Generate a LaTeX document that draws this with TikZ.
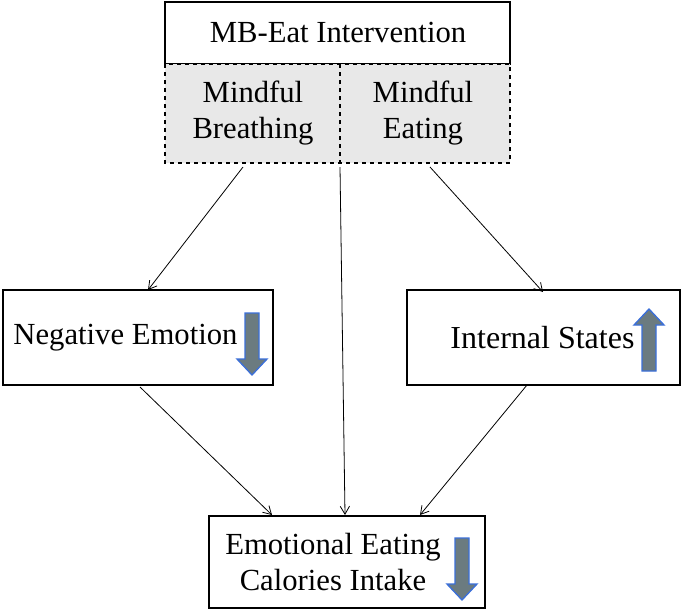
\documentclass[tikz,border=0pt]{standalone}
\usepackage{fontspec}
\setmainfont{Liberation Serif}
\usetikzlibrary{arrows.meta,positioning}
\definecolor{trendfill}{HTML}{6B7B80}
\definecolor{trendline}{HTML}{3B6FD9}
% block arrow: centre x, tail y, tip y (head 16 long, signed)
\newcommand{\trendarrow}[3]{%
  \draw[trend] (#1-7,#2) -- (#1+7,#2) -- (#1+7,{#3-16*sign(#3-#2)}) -- (#1+15,{#3-16*sign(#3-#2)})
    -- (#1,#3) -- (#1-15,{#3-16*sign(#3-#2)}) -- (#1-7,{#3-16*sign(#3-#2)}) -- cycle;}
\begin{document}
\begin{tikzpicture}[x=0.75pt,y=-0.75pt,
  box/.style={draw,thick,inner sep=0pt},
  link/.style={-{Straight Barb[length=6pt,width=7pt]},line width=0.6pt},
  trend/.style={draw=trendline,fill=trendfill,line width=1pt,line join=miter}]
  \useasboundingbox (0,0) rectangle (685,612);
  \fontsize{23}{27}\selectfont
  % Intervention block
  \draw[box] (165,2) rectangle (510,64);
  \node (title) at (338,32) {MB-Eat Intervention};
  \fill[gray!18] (165,64) rectangle (510,163);
  \draw[thick,dashed] (165,64) rectangle (510,163) (340,64) -- (340,163);
  \node[align=center] (breath) at (253,113) {Mindful\\Breathing};
  \node[align=center] (eat) at (423,113) {Mindful\\Eating};
  \coordinate (bl) at (243,167);
  \coordinate (bm) at (340,167);
  \coordinate (br) at (430,167);
  % Mediators
  \draw[box] (3,290) rectangle (273,385);
  \node[anchor=west] (neg) at (3,338) {Negative Emotion};
  \trendarrow{252}{313}{375}
  \draw[box] (407,290) rectangle (680,385);
  \node[anchor=west] (int) at (440,338) {\fontsize{24}{28}\selectfont Internal States};
  \trendarrow{649}{371}{309}
  % Outcome
  \draw[box] (209,516) rectangle (485,608);
  \node[align=center] (out) at (333,562) {Emotional Eating\\Calories Intake};
  \trendarrow{462}{538}{600}
  \coordinate (negt) at (148,290);
  \coordinate (intt) at (543,292);
  \coordinate (negb) at (140,387);
  \coordinate (intb) at (527,385);
  \coordinate (outl) at (272,515);
  \coordinate (outm) at (345,515);
  \coordinate (outr) at (420,515);
  % Links
  \draw[link] (bl) -- (negt);
  \draw[link] (br) -- (intt);
  \draw[link] (bm) -- (outm);
  \draw[link] (negb) -- (outl);
  \draw[link] (intb) -- (outr);
\end{tikzpicture}
\end{document}
